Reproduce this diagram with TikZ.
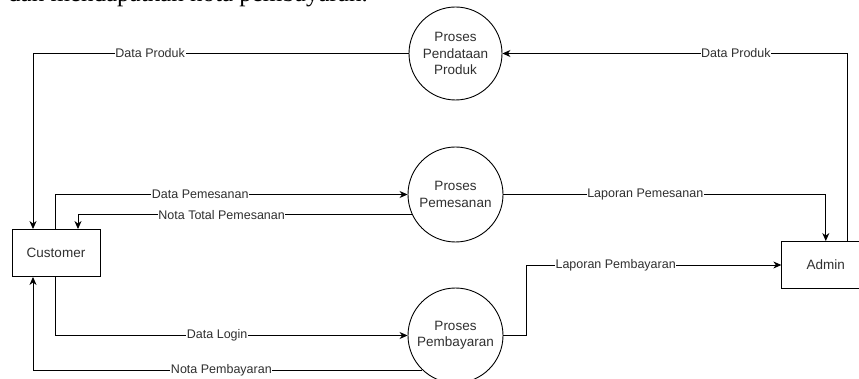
\documentclass[tikz,border=0pt]{standalone}
\usepackage{fontspec}
\setmainfont{Liberation Sans}
\newfontfamily\docserif{Liberation Serif}
\usetikzlibrary{arrows.meta,calc}
\definecolor{txt}{HTML}{303030}
\tikzset{
  flow/.style={draw=black, line width=0.9pt, -{Stealth[length=8pt,width=7pt,inset=2.5pt]}},
  lbl/.style={fill=white, inner sep=0.6pt, text=txt, font=\fontsize{12.5}{14}\selectfont},
  proc/.style={circle, draw=black, line width=0.9pt, minimum size=95pt, inner sep=0pt, align=center, text=txt, font=\fontsize{13.5}{16.5}\selectfont},
  ent/.style={rectangle, draw=black, line width=0.9pt, minimum width=88pt, minimum height=47pt, inner sep=0pt, text=txt, font=\fontsize{13.5}{16}\selectfont}
}
\begin{document}
\begin{tikzpicture}[x=1pt,y=-1pt]
\useasboundingbox (0,0) rectangle (859,379);
\clip (0,0) rectangle (859,379);
\fill[white] (0,0) rectangle (859,379);
% cropped document text at the top
\node[anchor=base west, inner sep=0pt, font=\docserif\fontsize{25}{30}\selectfont] (doctext) at (8,1.5) {dan mendapatkan nota pembayaran.};
% entities
\node[ent] (cust) at (56,253) {Customer};
\node[ent] (admin) at (825.8,265) {Admin};
% processes
\node[proc, minimum size=93pt] (pend) at (455.5,53.5) {Proses\\Pendataan\\Produk};
\node[proc] (pem) at (455.5,194.5) {Proses\\Pemesanan};
\node[proc] (pby) at (455.5,335.5) {Proses\\Pembayaran};
% flows
\draw[flow] (pend.west) -| node[lbl, pos=0.344] (l1) {Data Produk} ([xshift=-23pt]cust.north);
\draw[flow] ([xshift=22pt]admin.north) |- node[lbl, pos=0.662] (l2) {Data Produk} (pend.east);
\draw[flow] ([xshift=-1pt]cust.north) |- node[lbl, pos=0.706] (l3) {Data Pemesanan} (pem.west);
\draw[flow] (pem.205.6) -| node[lbl, pos=0.285] (l4) {Nota Total Pemesanan} ([xshift=22pt]cust.north);
\draw[flow] (pem.east) -| node[lbl, pos=0.22] (l5) {Laporan Pemesanan} (admin.north);
\draw[flow] (pby.east) -- ++(23,0) |- node[lbl, pos=0.675] (l6) {Laporan Pembayaran} (admin.west);
\draw[flow] ([xshift=-1pt]cust.south) |- node[lbl, pos=0.73] (l7) {Data Login} (pby.west);
\draw[flow] (pby.226.6) -| node[lbl, pos=0.258] (l8) {Nota Pembayaran} ([xshift=-23pt]cust.south);
\end{tikzpicture}
\end{document}
